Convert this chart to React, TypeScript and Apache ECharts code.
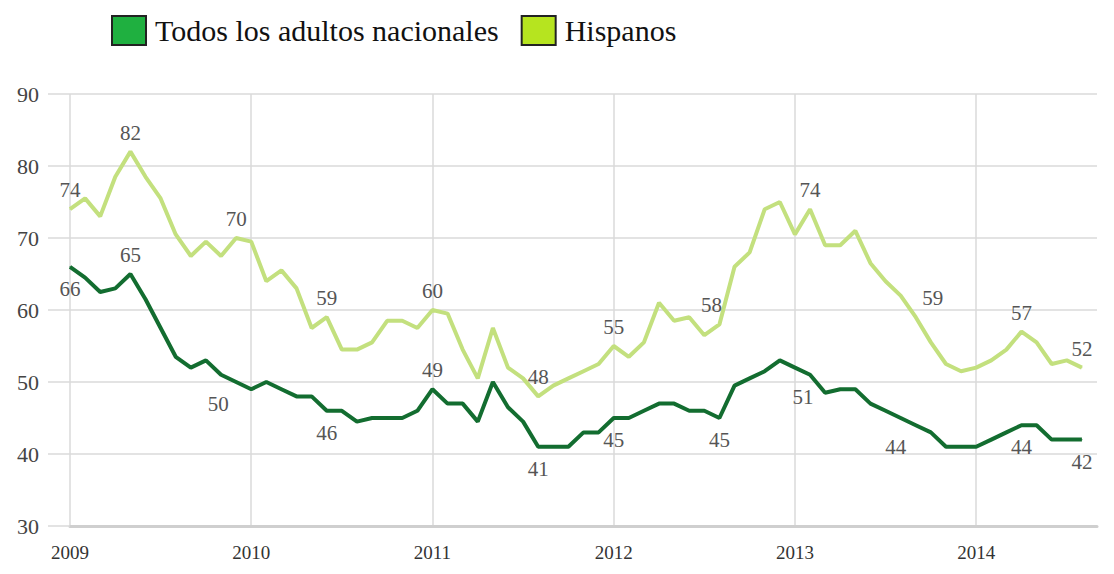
import React, { useEffect, useRef } from "react";
import * as echarts from "echarts";

// Monthly categories, Jan 2009 .. Sep 2014 (last slot has no data)
const years = [2009, 2010, 2011, 2012, 2013, 2014];
const months: string[] = [];
for (const y of years) for (let m = 1; m <= 12; m++) months.push(`${y}-${m < 10 ? "0" + m : m}`);
const categories = months.slice(0, 69);

const seriesNames = ["Todos los adultos nacionales", "Hispanos"];

const todos = [
  66, 64.5, 62.5, 63, 65, 61.5, 57.5, 53.5, 52, 53, 51, 50,
  49, 50, 49, 48, 48, 46, 46, 44.5, 45, 45, 45, 46,
  49, 47, 47, 44.5, 50, 46.5, 44.5, 41, 41, 41, 43, 43,
  45, 45, 46, 47, 47, 46, 46, 45, 49.5, 50.5, 51.5, 53,
  52, 51, 48.5, 49, 49, 47, 46, 45, 44, 43, 41, 41,
  41, 42, 43, 44, 44, 42, 42, 42,
];

const hispanos = [
  74, 75.5, 73, 78.5, 82, 78.5, 75.5, 70.5, 67.5, 69.5, 67.5, 70,
  69.5, 64, 65.5, 63, 57.5, 59, 54.5, 54.5, 55.5, 58.5, 58.5, 57.5,
  60, 59.5, 54.5, 50.5, 57.5, 52, 50.5, 48, 49.5, 50.5, 51.5, 52.5,
  55, 53.5, 55.5, 61, 58.5, 59, 56.5, 58, 66, 68, 74, 75,
  70.5, 74, 69, 69, 71, 66.5, 64, 62, 59, 55.5, 52.5, 51.5,
  52, 53, 54.5, 57, 55.5, 52.5, 53, 52,
];

// Which points carry a value label (index, placement, horizontal shift)
const todosLabels: [number, string, number][] = [
  [0, "bottom", 0], [4, "top", 0], [11, "bottom", -18], [17, "bottom", 0],
  [24, "top", 0], [31, "bottom", 0], [36, "bottom", 0], [43, "bottom", 0],
  [49, "bottom", -7], [56, "bottom", -20], [63, "bottom", 0], [67, "bottom", 0],
];
const hispanosLabels: [number, string, number][] = [
  [0, "top", 0], [4, "top", 0], [11, "top", 0], [17, "top", 0],
  [24, "top", 0], [31, "top", 0], [36, "top", 0], [43, "top", -8],
  [49, "top", 0], [56, "top", 17], [63, "top", 0], [67, "top", 0],
];

const FONT = "Georgia, 'Liberation Serif', 'DejaVu Serif', serif";

function withLabels(values: number[], labels: [number, string, number][]) {
  const map = new Map(labels.map((l) => [l[0], l]));
  return values.map((v, i) => {
    const l = map.get(i);
    if (!l) return { value: v };
    return {
      value: v,
      label: {
        show: true,
        position: l[1],
        distance: l[1] === "top" ? 8 : 11,
        offset: [l[2], 0],
        formatter: String(Math.round(v)),
        color: "#555",
        fontFamily: FONT,
        fontSize: 21,
      },
    };
  });
}

export default function App() {
  const ref = useRef<HTMLDivElement>(null);
  useEffect(() => {
    if (!ref.current) return;
    const chart = echarts.init(ref.current, undefined, { renderer: "svg" });
    chart.setOption({
      animation: false,
      backgroundColor: "#ffffff",
      legend: {
        left: 106,
        top: 10,
        itemWidth: 34,
        itemHeight: 29,
        itemGap: 22,
        icon: "rect",
        textStyle: {
          fontFamily: FONT,
          fontSize: 30,
          color: "#111",
          padding: [0, 0, 0, 4],
        },
        data: [
          { name: seriesNames[0], itemStyle: { color: "#1fb040", borderColor: "#222", borderWidth: 2 } },
          { name: seriesNames[1], itemStyle: { color: "#b6e41f", borderColor: "#222", borderWidth: 2 } },
        ],
      },
      grid: { left: 70, right: 17, top: 94, bottom: 48, containLabel: false },
      xAxis: {
        type: "category",
        data: categories,
        boundaryGap: false,
        axisLine: { show: true, lineStyle: { color: "#cfcfcf", width: 3 } },
        axisTick: { show: false },
        axisLabel: {
          interval: 11,
          margin: 17,
          formatter: (v: string) => v.slice(0, 4),
          fontFamily: FONT,
          fontSize: 19,
          color: "#333",
        },
        splitLine: { show: true, interval: 11, lineStyle: { color: "#dadada", width: 1.5 } },
      },
      yAxis: {
        type: "value",
        min: 30,
        max: 90,
        interval: 10,
        axisLine: { show: false },
        axisTick: { show: true, length: 22, lineStyle: { color: "#dadada", width: 1.5 } },
        axisLabel: {
          margin: 31,
          fontFamily: FONT,
          fontSize: 22,
          color: "#444",
        },
        splitLine: { show: true, lineStyle: { color: "#dadada", width: 1.5 } },
      },
      series: [
        {
          name: seriesNames[0],
          type: "line",
          data: withLabels(todos, todosLabels),
          showSymbol: true,
          symbol: "circle",
          symbolSize: 1,
          label: { show: false },
          lineStyle: { color: "#136d30", width: 4 },
          itemStyle: { color: "#136d30" },
          z: 3,
        },
        {
          name: seriesNames[1],
          type: "line",
          data: withLabels(hispanos, hispanosLabels),
          showSymbol: true,
          symbol: "circle",
          symbolSize: 1,
          label: { show: false },
          lineStyle: { color: "#c3e07e", width: 4 },
          itemStyle: { color: "#c3e07e" },
          z: 2,
        },
      ],
    });
    return () => chart.dispose();
  }, []);
  return (
    <div
      ref={ref}
      style={{ position: "fixed", left: 0, top: 0, width: 1114, height: 574 }}
    />
  );
}
